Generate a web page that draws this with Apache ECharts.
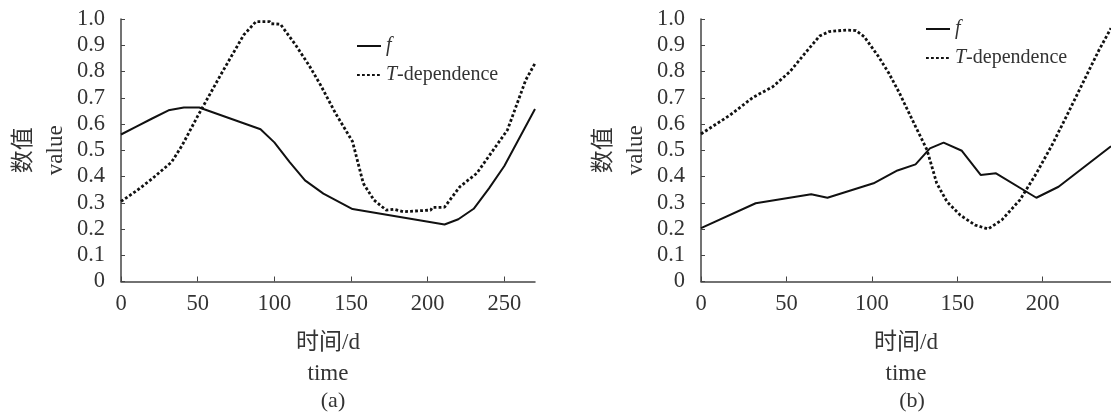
<!DOCTYPE html>
<html>
<head>
<meta charset="utf-8">
<title>f / T-dependence</title>
<script src="https://cdn.jsdelivr.net/npm/echarts/dist/echarts.min.js"></script>
<style>
  html, body { margin: 0; padding: 0; background: #fff; }
  #chart { width: 1111px; height: 417px; }
</style>
</head>
<body>
<div id="chart"></div>
<script>
// 图(a) 数据 [时间/d, 数值]
var fA = [[0, 0.56], [10, 0.59], [20, 0.62], [31, 0.652], [41, 0.663], [51, 0.663], [91, 0.58],
  [100, 0.53], [110, 0.455], [120, 0.385], [132, 0.335], [151, 0.276], [211, 0.217],
  [220, 0.237], [230, 0.277], [240, 0.355], [250, 0.44], [270, 0.657]];
var tA = [[0, 0.305], [10, 0.345], [20, 0.39], [33, 0.455], [40, 0.52], [50, 0.63], [65, 0.787],
  [80, 0.939], [88, 0.99], [97, 0.99], [98, 0.982], [104, 0.98], [114, 0.9], [123, 0.82],
  [130, 0.75], [140, 0.64], [151, 0.533], [158, 0.374], [165, 0.31], [173, 0.272],
  [178, 0.275], [184, 0.266], [202, 0.272], [203, 0.282], [211, 0.283], [221, 0.361],
  [232, 0.412], [252, 0.577], [264, 0.768], [270, 0.831]];

// 图(b) 数据
var fB = [[0, 0.203], [32, 0.298], [64.5, 0.332], [74, 0.319], [101, 0.374], [115, 0.423],
  [125.6, 0.446], [134, 0.507], [142, 0.529], [152.7, 0.498], [163.7, 0.406], [172.7, 0.412],
  [196.3, 0.319], [209.3, 0.361], [240, 0.515]];
var tB = [[0, 0.562], [17, 0.634], [30.6, 0.702], [42, 0.742], [52, 0.799], [61.6, 0.875],
  [69.4, 0.935], [75, 0.952], [85, 0.958], [90.7, 0.956], [95.5, 0.933], [104, 0.856],
  [110, 0.793], [116, 0.72], [119, 0.679], [125.6, 0.59], [132.3, 0.501], [138, 0.374],
  [144, 0.304], [151.7, 0.253], [160.5, 0.215], [168, 0.2], [176, 0.234], [186.6, 0.31],
  [196.3, 0.412], [206, 0.526], [215.7, 0.653], [225.3, 0.78], [233, 0.882], [240, 0.965]];

var xMaxA = 270, xMaxB = 240;
var legendNames = ['f', 'T-dependence'];
var captions = ['(a)', '(b)'];

var FONT = '"Liberation Serif", "Noto Sans CJK SC", serif';
var TXT = '#333';

function xAxisOf(idx, max) {
  return {
    type: 'value', gridIndex: idx, min: 0, max: max, interval: 50,
    name: '时间/d\ntime', nameLocation: 'middle', nameGap: 46,
    nameTextStyle: { fontFamily: FONT, fontSize: 23, color: TXT, lineHeight: 31, verticalAlign: 'top' },
    axisLine: { lineStyle: { color: '#444', width: 1.5 } },
    axisTick: { inside: true, length: 5, lineStyle: { color: '#444' } },
    axisLabel: { fontFamily: FONT, fontSize: 22.5, color: TXT, margin: 11, showMaxLabel: false },
    splitLine: { show: false }
  };
}

function yAxisOf(idx) {
  return {
    type: 'value', gridIndex: idx, min: 0, max: 1, interval: 0.1,
    name: '数值\nvalue', nameLocation: 'middle', nameRotate: 90, nameGap: 49,
    nameTextStyle: { fontFamily: FONT, fontSize: 23, color: TXT, lineHeight: 32 },
    axisLine: { show: true, lineStyle: { color: '#444', width: 1.5 } },
    axisTick: { show: true, inside: true, length: 4, lineStyle: { color: '#444' } },
    axisLabel: {
      fontFamily: FONT, fontSize: 22.5, color: TXT, margin: 16,
      formatter: function (v) { return v === 0 ? '0' : v.toFixed(1); }
    },
    splitLine: { show: false }
  };
}

// 图例：只画线，不画点
function legendOf(left, top) {
  return {
    data: legendNames, orient: 'vertical', left: left, top: top,
    itemWidth: 24, itemHeight: 12, itemGap: 9,
    itemStyle: { opacity: 0 },
    textStyle: {
      fontFamily: FONT, fontSize: 20, color: TXT,
      rich: { i: { fontFamily: FONT, fontSize: 20, fontStyle: 'italic', color: TXT } }
    },
    formatter: function (name) {
      return name === 'f' ? '{i|f}' : '{i|T}-dependence';
    }
  };
}

function seriesOf(idx, data, dotted) {
  return {
    name: dotted ? 'T-dependence' : 'f', type: 'line',
    xAxisIndex: idx, yAxisIndex: idx, data: data,
    symbol: 'none', silent: true, animation: false,
    itemStyle: { color: '#111' },
    lineStyle: dotted
      ? { color: '#111', width: 2.8, type: [2.8, 2.2] }
      : { color: '#111', width: 2 }
  };
}

var chart = echarts.init(document.getElementById('chart'));
chart.setOption({
  backgroundColor: '#fff',
  animation: false,
  title: [
    { text: captions[0], left: 328, top: 385, textAlign: 'center',
      textStyle: { fontFamily: FONT, fontSize: 22, fontWeight: 'normal', color: TXT } },
    { text: captions[1], left: 907, top: 385, textAlign: 'center',
      textStyle: { fontFamily: FONT, fontSize: 22, fontWeight: 'normal', color: TXT } }
  ],
  legend: [legendOf(351, 31), legendOf(920, 14)],
  grid: [
    { left: 121, top: 19, width: 414, height: 262.5 },
    { left: 701, top: 19, width: 413, height: 262.5 }
  ],
  xAxis: [xAxisOf(0, xMaxA), xAxisOf(1, xMaxB)],
  yAxis: [yAxisOf(0), yAxisOf(1)],
  series: [
    seriesOf(0, fA, false), seriesOf(0, tA, true),
    seriesOf(1, fB, false), seriesOf(1, tB, true)
  ]
});
</script>
</body>
</html>
